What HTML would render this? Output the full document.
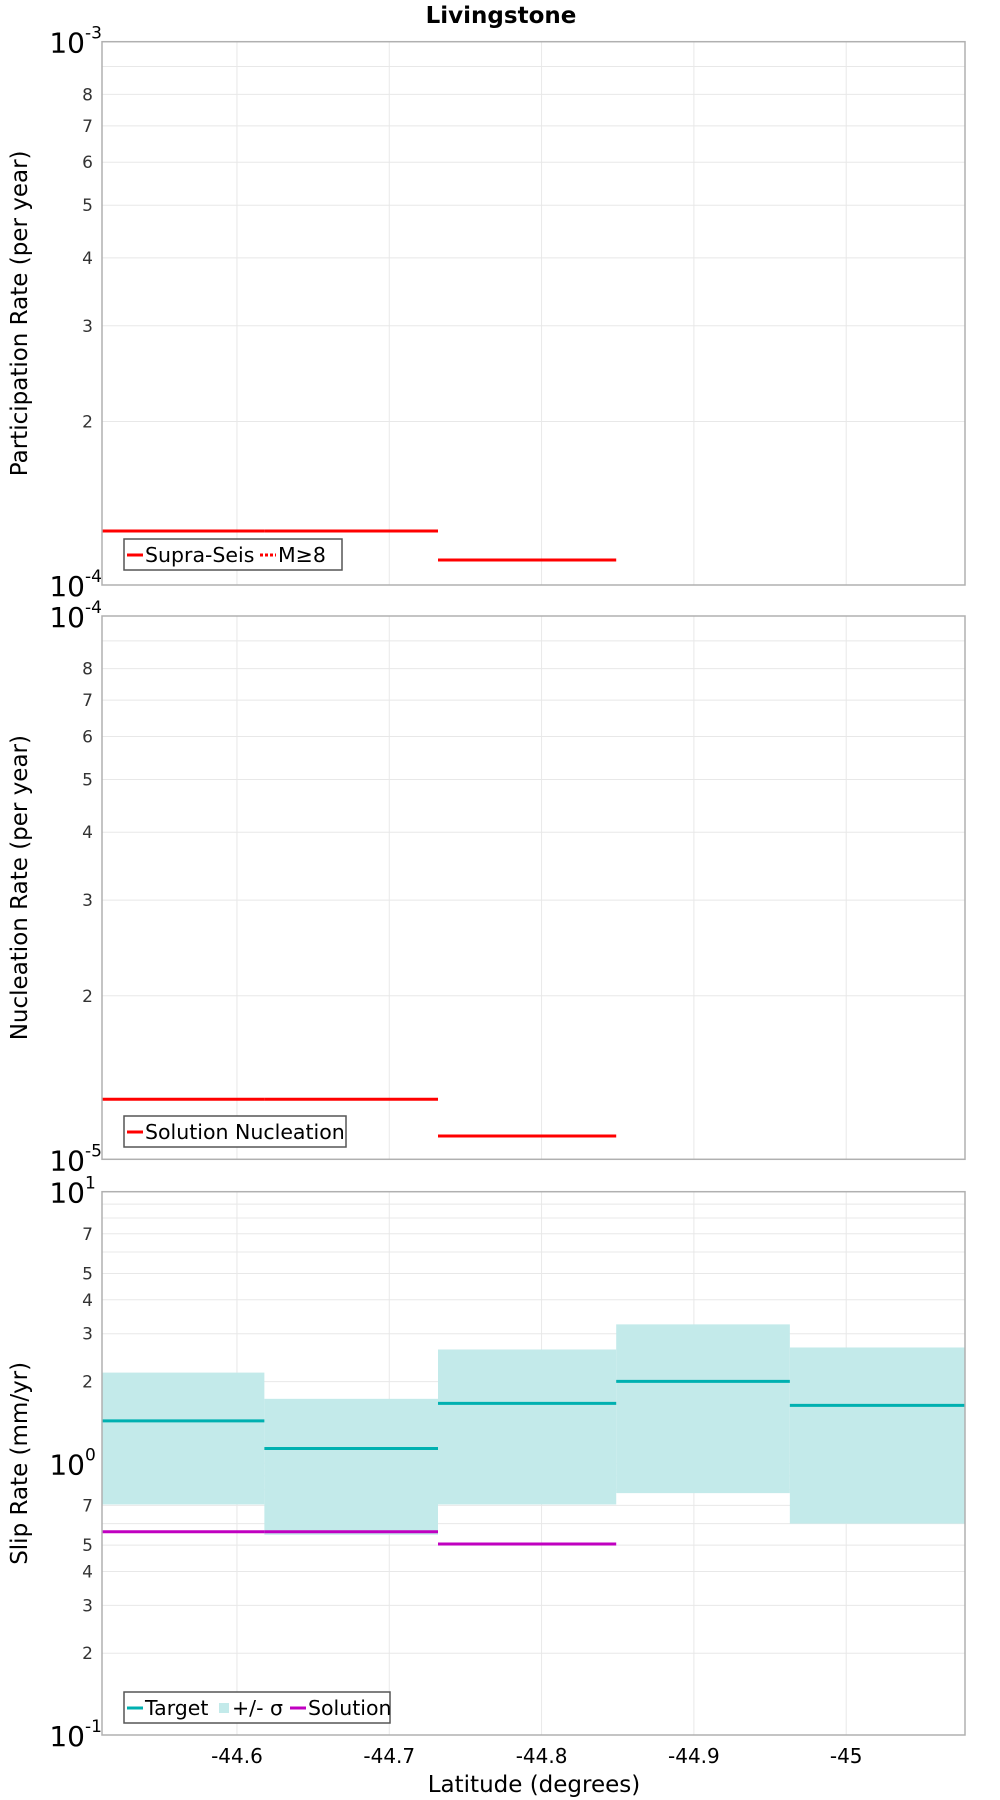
<!DOCTYPE html>
<html><head><meta charset="utf-8"><style>
body{margin:0;background:#fff}
svg{display:block;font-family:"DejaVu Sans","Liberation Sans",sans-serif}
</style></head><body>
<svg id="chart" width="1000" height="1800" viewBox="0 0 1000 1800" xmlns="http://www.w3.org/2000/svg">
<text x="501" y="23" text-anchor="middle" font-size="23" font-weight="bold">Livingstone</text>
<text x="534" y="1792" text-anchor="middle" font-size="23">Latitude (degrees)</text>
</svg>
<script>
// ---- data ----
const xTicks = [-44.6, -44.7, -44.8, -44.9, -45];
const xTickLabels = ["-44.6", "-44.7", "-44.8", "-44.9", "-45"];
const sectionBounds = [-44.5114, -44.618, -44.732, -44.849, -44.963, -45.078];
const supraSeis = [1.257e-4, 1.257e-4, 1.112e-4, null, null];
const nucleation = [1.29e-5, 1.29e-5, 1.104e-5, null, null];
const slipTarget = [1.434, 1.134, 1.662, 2.004, 1.634];
const slipUpper = [2.158, 1.728, 2.625, 3.248, 2.670];
const slipLower = [0.706, 0.546, 0.706, 0.777, 0.600];
const slipSolution = [0.56, 0.56, 0.505, null, null];

const NS = "http://www.w3.org/2000/svg";
const svg = document.getElementById("chart");
const L = 102, R = 965, H = 543.3;
const X0 = -44.5114, X1 = -45.078;
function xs(v){ return L + (v - X0) / (X1 - X0) * (R - L); }
function mk(tag, attrs, parent){
  const e = document.createElementNS(NS, tag);
  for (const k in attrs) e.setAttribute(k, attrs[k]);
  (parent || svg).appendChild(e);
  return e;
}
function makeYScale(top, lo, hi){
  return v => top + H - (Math.log10(v) - Math.log10(lo)) / (Math.log10(hi) - Math.log10(lo)) * H;
}

const panels = [
  {top:41.7, lo:1e-4, hi:1e-3, title:"Participation Rate (per year)", labels:[2,3,4,5,6,7,8]},
  {top:616, lo:1e-5, hi:1e-4, title:"Nucleation Rate (per year)", labels:[2,3,4,5,6,7,8]},
  {top:1191.7, lo:0.1, hi:10, title:"Slip Rate (mm/yr)", labels:[2,3,4,5,7]}
];

panels.forEach((p, pi) => {
  const ys = makeYScale(p.top, p.lo, p.hi);
  p.ys = ys;
  const g = mk("g", {});
  
  
  const d0 = Math.round(Math.log10(p.lo)), d1 = Math.round(Math.log10(p.hi));
  for (let d = d0; d < d1; d++) {
    for (let m = 2; m <= 9; m++) {
      const v = m * Math.pow(10, d), y = ys(v);
      const gl = mk("line", {x1:L, x2:R, y1:y, y2:y, stroke:"#e8e8e8", "stroke-width":1}, g);
      
      
      if (p.labels.includes(m)) {
        const t = mk("text", {x:L-9, y:y+6, "text-anchor":"end", "font-size":17, fill:"#333"}, g);
        
        
        t.textContent = m;
      }
    }
    if (d > d0) {
      const y = ys(Math.pow(10, d));
      const gl = mk("line", {x1:L, x2:R, y1:y, y2:y, stroke:"#e8e8e8", "stroke-width":1}, g);
      
      
    }
  }
  xTicks.forEach(v => {
    const gl = mk("line", {x1:xs(v), x2:xs(v), y1:p.top, y2:p.top+H, stroke:"#e8e8e8", "stroke-width":1}, g);
    
    
  });
  for (let d = d0; d <= d1; d++) {
    const y = ys(Math.pow(10, d));
    const t = mk("text", {x:L-17, y:y+11, "text-anchor":"end", "font-size":28, fill:"#000"}, g);
    
    
    t.textContent = "10";
    const s = mk("text", {x:L-17, y:y-3, "text-anchor":"start", "font-size":17, fill:"#000"}, g);
    
    
    s.textContent = String(d);
  }
  const cy = p.top + H/2;
  const yt = mk("text", {x:0, y:0, transform:`translate(27,${cy}) rotate(-90)`, "text-anchor":"middle", "font-size":23}, g);
  
  
  yt.textContent = p.title;
});

const p3 = panels[2];
slipUpper.forEach((u, i) => {
  const x1 = xs(sectionBounds[i]), x2 = xs(sectionBounds[i+1]);
  const r = mk("rect", {x:x1, y:p3.ys(u), width:x2-x1, height:p3.ys(slipLower[i])-p3.ys(u), fill:"#c3eaea"});
  
  
});

function drawSteps(arr, panel, color, name){
  arr.forEach((v, i) => {
    if (v == null) return;
    const y = panel.ys(v);
    const l = mk("line", {x1:xs(sectionBounds[i]), x2:xs(sectionBounds[i+1]), y1:y, y2:y, stroke:color, "stroke-width":3});
    
    
  });
}
drawSteps(supraSeis, panels[0], "#ff0000", "supra-seis-line");
drawSteps(nucleation, panels[1], "#ff0000", "nucleation-line");
drawSteps(slipTarget, p3, "#00b0b0", "target-line");
drawSteps(slipSolution, p3, "#c000c0", "solution-line");

panels.forEach(p => {
  const f = mk("rect", {x:L, y:p.top, width:R-L, height:H, fill:"none", stroke:"#b0b0b0", "stroke-width":1.5});
  
  
});

xTicks.forEach((v, i) => {
  const t = mk("text", {x:xs(v), y:1763, "text-anchor":"middle", "font-size":20});
  
  
  t.textContent = xTickLabels[i];
});

function legend(y, w, items, name){
  const g = mk("g", {});
  
  
  mk("rect", {x:124, y:y, width:w, height:31, fill:"#fff", stroke:"#555", "stroke-width":1.5}, g);
  let x = 127;
  items.forEach(it => {
    if (it.kind === "box") {
      mk("rect", {x:x+1, y:y+11, width:10, height:10, fill:it.color}, g);
      x += 14;
    } else {
      mk("line", {x1:x, x2:x+16, y1:y+16, y2:y+16, stroke:it.color, "stroke-width":3, "stroke-dasharray":it.dash||"none"}, g);
      x += 18;
    }
    const t = mk("text", {x:x, y:y+23, "font-size":20.5}, g);
    
    
    t.textContent = it.label;
    x += it.w;
  });
}
legend(539, 218, [{color:"#ff0000", label:"Supra-Seis", w:115},{color:"#ff0000", dash:"3,2", label:"M≥8", w:50}], "participation-legend");
legend(1116, 222, [{color:"#ff0000", label:"Solution Nucleation", w:200}], "nucleation-legend");
legend(1692, 266, [{color:"#00b0b0", label:"Target", w:73},{kind:"box", color:"#c3eaea", label:"+/- σ", w:58},{color:"#c000c0", label:"Solution", w:90}], "slip-legend");
</script>
</body></html>
